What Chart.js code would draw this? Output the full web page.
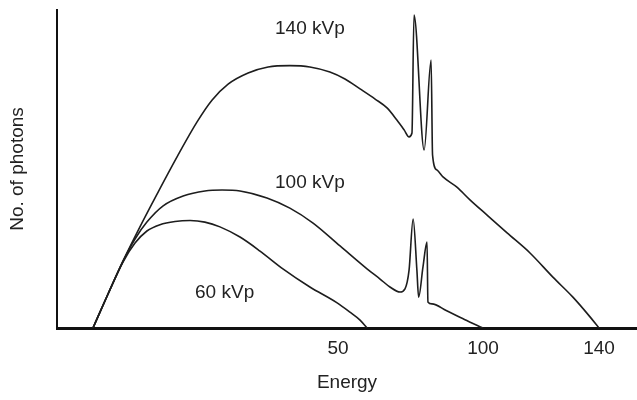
<!DOCTYPE html>
<html>
<head>
<meta charset="utf-8">
<title>X-ray spectra</title>
<script src="https://cdn.jsdelivr.net/npm/chart.js@4/dist/chart.umd.min.js"></script>
<style>
  html, body { margin: 0; padding: 0; background: #ffffff; }
  #wrap { width: 637px; height: 400px; }
</style>
</head>
<body>
<div id="wrap"><canvas id="chart" width="637" height="400"></canvas></div>
<script>
// Tube voltages shown as separate spectra
const seriesNames = ['140 kVp', '100 kVp', '60 kVp'];

// Energy axis tick labels
const energyTicks = [50, 100, 140];

// 140 kVp spectrum: energy and relative photon count
const energy140 = [-34.5, -29.3, -24.1, -18.3, -12.4, -5.5, 1.4, 6.6, 12.1, 19.0, 25.9, 33.4, 40.3, 47.2, 52.4, 57.6, 62.8, 66.9, 70.3, 72.8, 74.5, 75.5, 76.2, 79.7, 82.1, 82.6, 84.1, 86.2, 91.0, 95.5, 101.4, 108.3, 116.2, 124.1, 131.0, 136.9, 140];
const photons140 = [0, 10.7, 21.1, 31.8, 42.1, 53.8, 64.8, 71.7, 76.7, 80.2, 82.1, 82.5, 82.1, 80.5, 78.3, 75.2, 72.0, 69.2, 65.4, 62.3, 60.1, 61.3, 98.4, 56.0, 84.3, 54.4, 49.7, 47.5, 44.3, 40.3, 35.5, 29.9, 23.6, 16.0, 9.7, 3.5, 0];

// 100 kVp spectrum
const energy100 = [-34.5, -29.3, -24.1, -20.0, -15.9, -10.3, -3.4, 4.1, 10.0, 16.2, 25.5, 33.4, 41.4, 50.7, 60.0, 64.5, 67.9, 71.4, 73.1, 74.5, 75.9, 77.2, 77.8, 79.3, 80.7, 81.0, 82.4, 87.3, 93.6, 100];
const photons100 = [0, 10.7, 21.1, 28.0, 33.3, 38.4, 41.5, 43.1, 43.4, 43.1, 40.9, 37.7, 33.0, 25.8, 18.6, 15.4, 12.9, 11.3, 12.3, 18.2, 34.3, 18.2, 9.7, 19.2, 27.0, 8.2, 7.6, 5.5, 2.7, 0];

// 60 kVp spectrum
const energy60 = [-34.5, -29.3, -24.1, -20.0, -15.9, -11.4, -6.2, -1.0, 4.1, 9.3, 16.2, 23.1, 31.0, 40.3, 49.7, 54.1, 57.6, 60];
const photons60 = [0, 10.7, 20.8, 26.7, 30.5, 32.5, 33.5, 33.8, 33.3, 31.8, 28.6, 24.2, 18.6, 12.9, 7.9, 5.0, 2.5, 0];

function pairs(xs, ys) {
  return xs.map((x, i) => ({ x: x, y: ys[i] }));
}

const lineStyle = {
  borderColor: '#1d1d1d',
  borderWidth: 1.6,
  pointRadius: 0,
  fill: false,
  cubicInterpolationMode: 'monotone'
};

// Curve captions, anchored in energy / count coordinates
const captionPlugin = {
  id: 'curveCaptions',
  afterDatasetsDraw(chart, args, opts) {
    const ctx = chart.ctx;
    const xs = chart.scales.x, ys = chart.scales.y;
    ctx.save();
    ctx.fillStyle = '#222222';
    ctx.font = '19px "Liberation Sans", Arial, sans-serif';
    ctx.textAlign = 'center';
    ctx.textBaseline = 'middle';
    opts.anchors.forEach((a, i) => {
      ctx.fillText(seriesNames[i], xs.getPixelForValue(a[0]), ys.getPixelForValue(a[1]));
    });
    ctx.restore();
  }
};

new Chart(document.getElementById('chart'), {
  type: 'line',
  data: {
    datasets: [
      Object.assign({ label: seriesNames[0], data: pairs(energy140, photons140) }, lineStyle),
      Object.assign({ label: seriesNames[1], data: pairs(energy100, photons100) }, lineStyle),
      Object.assign({ label: seriesNames[2], data: pairs(energy60, photons60) }, lineStyle)
    ]
  },
  options: {
    responsive: false,
    animation: false,
    events: [],
    layout: { padding: { top: 10, left: 0, right: 0, bottom: 0 } },
    plugins: {
      legend: { display: false },
      tooltip: { enabled: false },
      curveCaptions: { anchors: [[40.3, 94.0], [40.3, 45.6], [10.9, 11.0]] }
    },
    scales: {
      x: {
        type: 'linear',
        min: -46.9,
        max: 153.1,
        afterBuildTicks(scale) {
          scale.ticks = energyTicks.map(v => ({ value: v }));
        },
        afterFit(scale) { scale.height = 72; },
        grid: { display: false, drawTicks: false },
        border: { display: true, color: '#111111', width: 3 },
        ticks: {
          autoSkip: false,
          maxRotation: 0,
          padding: 9,
          color: '#222222',
          font: { family: '"Liberation Sans", Arial, sans-serif', size: 19 }
        },
        title: {
          display: true,
          text: 'Energy',
          color: '#222222',
          padding: { top: 0, bottom: 6 },
          font: { family: '"Liberation Sans", Arial, sans-serif', size: 19 }
        }
      },
      y: {
        type: 'linear',
        min: 0,
        max: 100,
        afterFit(scale) { scale.width = 57; },
        grid: { display: false, drawTicks: false },
        border: { display: true, color: '#111111', width: 2 },
        ticks: { display: false },
        title: {
          display: true,
          text: 'No. of photons',
          color: '#222222',
          padding: { top: 6, bottom: 0 },
          font: { family: '"Liberation Sans", Arial, sans-serif', size: 19 }
        }
      }
    }
  },
  plugins: [captionPlugin]
});
</script>
</body>
</html>
